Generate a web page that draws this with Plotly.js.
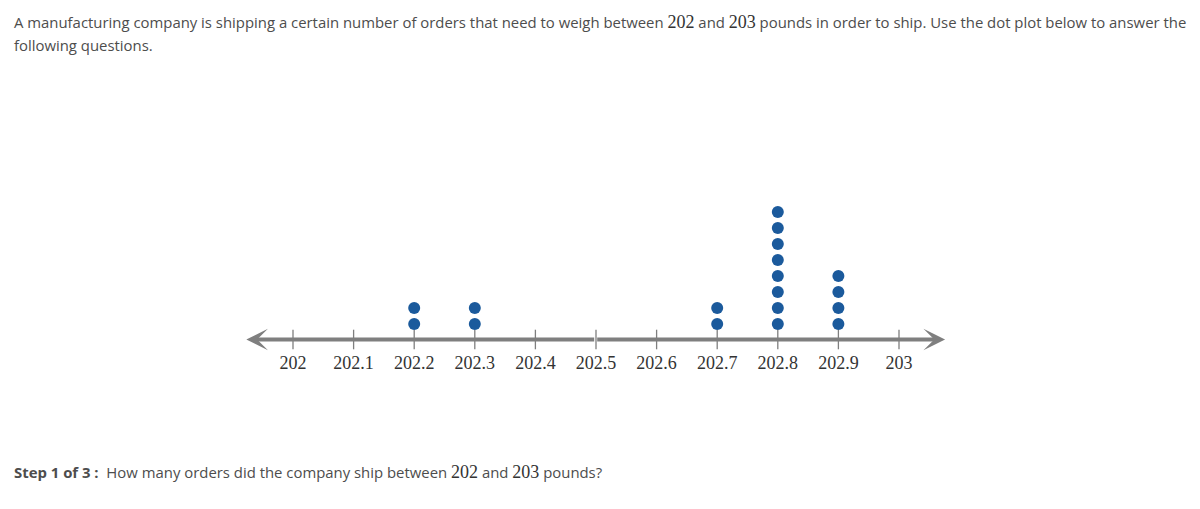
<!DOCTYPE html>
<html>
<head>
<meta charset="utf-8">
<script src="https://cdn.plot.ly/plotly-3.0.1.min.js"></script>
<style>
html,body{margin:0;padding:0;background:#fff;}
#chart{width:1200px;height:509px;}
</style>
</head>
<body>
<div id="chart"></div>
<script>
// Data
const weights = [202.2, 202.3, 202.7, 202.8, 202.9];
const counts  = [2, 2, 2, 8, 4];
const tickVals = [202, 202.1, 202.2, 202.3, 202.4, 202.5, 202.6, 202.7, 202.8, 202.9, 203];
const tickText = ["202", "202.1", "202.2", "202.3", "202.4", "202.5", "202.6", "202.7", "202.8", "202.9", "203"];
const axisMin = 201.923, axisMax = 203.076; // arrow tips of the number line

// Layout geometry
const W = 1200, H = 509;
const pxPerUnitX = 606, x0px = 293;       // 202 sits at pixel 293
const xr0 = 202 - x0px / pxPerUnitX;
const xr1 = xr0 + W / pxPerUnitX;
const pxPerDot = 16, firstDotPx = 324, linePx = 339.5;
const yr0 = 1 - (H - firstDotPx) / pxPerDot;
const yr1 = 1 + firstDotPx / pxPerDot;
const lineY = 1 - (linePx - firstDotPx) / pxPerDot;

const dx = [], dy = [];
weights.forEach((w, i) => { for (let k = 1; k <= counts[i]; k++) { dx.push(w); dy.push(k); } });

const serif = "'Liberation Serif','Times New Roman',serif";
const sans = "'Open Sans', sans-serif";
const grey = '#7f7f7f';
const txt = '#4d4d4d';
const num = s => `<span style="font-family:${serif};font-size:18px;color:#333">${s}</span>`;
const py = p => (H - p) / H;

const traces = [
  { x: tickVals, y: tickVals.map(() => lineY), mode: 'markers', type: 'scatter', hoverinfo: 'skip',
    marker: { symbol: 'line-ns', size: 14, line: { width: 1.3, color: grey } } },
  { x: dx, y: dy, mode: 'markers', type: 'scatter', hoverinfo: 'skip',
    marker: { size: 12, color: '#1b5a9c' } }
];

const mid = (axisMin + axisMax) / 2;
const annotations = [
  { x: axisMin, y: lineY, ax: mid, ay: lineY, xref: 'x', yref: 'y', axref: 'x', ayref: 'y',
    showarrow: true, text: '', arrowhead: 3, arrowsize: 0.9, arrowwidth: 4, arrowcolor: grey },
  { x: axisMax, y: lineY, ax: mid, ay: lineY, xref: 'x', yref: 'y', axref: 'x', ayref: 'y',
    showarrow: true, text: '', arrowhead: 3, arrowsize: 0.9, arrowwidth: 4, arrowcolor: grey },
  { xref: 'paper', yref: 'paper', x: 12 / W, y: py(22), xanchor: 'left', yanchor: 'middle', showarrow: false,
    font: { family: sans, size: 14.9, color: txt },
    text: `A manufacturing company is shipping a certain number of orders that need to weigh between ${num('202')} and ${num('203')} pounds in order to ship. Use the dot plot below to answer the` },
  { xref: 'paper', yref: 'paper', x: 12 / W, y: py(45), xanchor: 'left', yanchor: 'middle', showarrow: false,
    font: { family: sans, size: 14.9, color: txt }, text: 'following questions.' },
  { xref: 'paper', yref: 'paper', x: 12 / W, y: py(472), xanchor: 'left', yanchor: 'middle', showarrow: false,
    font: { family: sans, size: 14.9, color: txt },
    text: `<b>Step 1 of 3 :</b>  How many orders did the company ship between ${num('202')} and ${num('203')} pounds?` }
];

const layout = {
  width: W, height: H,
  margin: { l: 0, r: 0, t: 0, b: 0 },
  paper_bgcolor: '#fff', plot_bgcolor: '#fff',
  showlegend: false,
  xaxis: { range: [xr0, xr1], showgrid: false, zeroline: false, showline: false,
    tickmode: 'array', tickvals: tickVals, ticktext: tickText, ticks: '',
    anchor: 'free', position: py(linePx + 10), ticklabelstandoff: 0,
    tickfont: { family: serif, size: 18, color: '#333' } },
  yaxis: { range: [yr0, yr1], visible: false, showgrid: false, zeroline: false },
  annotations: annotations
};

Plotly.newPlot('chart', traces, layout, { staticPlot: true, displayModeBar: false });
</script>
</body>
</html>
